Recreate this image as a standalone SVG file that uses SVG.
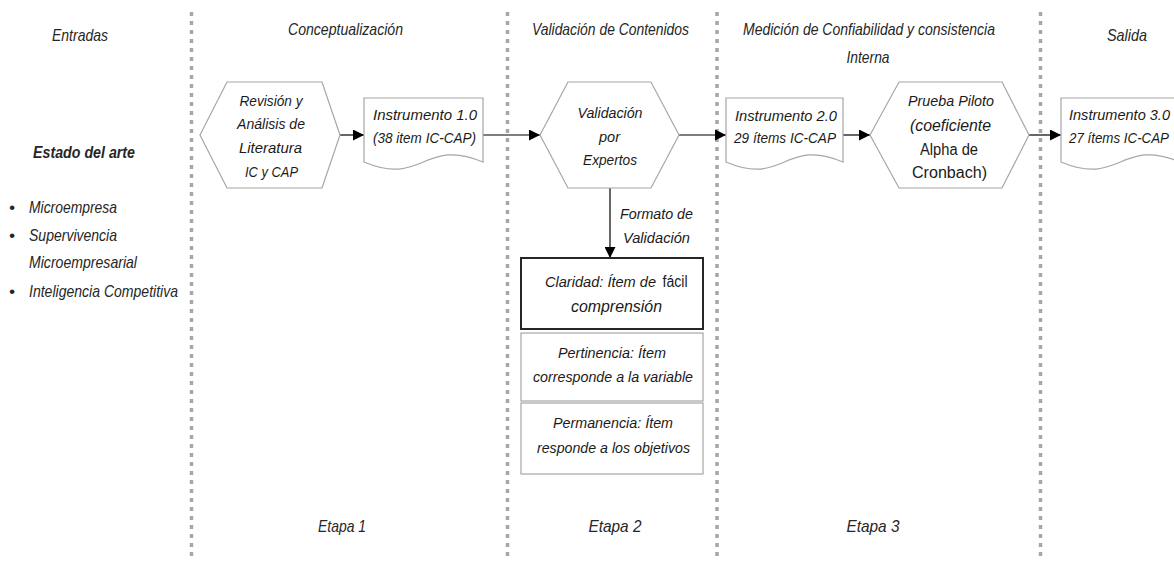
<svg xmlns="http://www.w3.org/2000/svg" width="1174" height="561" viewBox="0 0 1174 561">
  <defs>
    <style>
      .hdr { font-family: "Liberation Sans Narrow", "Liberation Sans", Arial, sans-serif; font-style: italic; font-size: 17px; fill: #262626; text-anchor: middle; }
      .hdrl { font-family: "Liberation Sans Narrow", "Liberation Sans", Arial, sans-serif; font-style: italic; font-size: 17px; fill: #262626; }
      .bold { font-weight: bold; }
      .cal { font-family: "Liberation Sans", Arial, sans-serif; font-style: italic; font-size: 15px; fill: #1a1a1a; text-anchor: middle; }
      .call { font-family: "Liberation Sans", Arial, sans-serif; font-style: italic; font-size: 15px; fill: #1a1a1a; }
      .ari { font-family: "Liberation Sans", Arial, sans-serif; font-size: 16px; fill: #1a1a1a; text-anchor: middle; }
      .shape { fill: #ffffff; stroke: #a6a6a6; stroke-width: 1.2; }
      .boxdark { fill: #ffffff; stroke: #262626; stroke-width: 2; }
      .conn { stroke: #000000; stroke-width: 1.2; fill: none; marker-end: url(#arr); }
      .div { stroke: #a6a6a6; stroke-width: 3.5; stroke-dasharray: 4 5; fill: none; }
    </style>
    <marker id="arr" markerUnits="userSpaceOnUse" markerWidth="11" markerHeight="11" viewBox="0 0 11 11" refX="11" refY="5.5" orient="auto">
      <path d="M0,0 L11,5.5 L0,11 Z" fill="#000000"/>
    </marker>
  </defs>

  <rect x="0" y="0" width="1174" height="561" fill="#ffffff"/>

  <!-- column dividers -->
  <g id="dividers">
    <line class="div" x1="191.5" y1="12" x2="191.5" y2="561"/>
    <line class="div" x1="507.5" y1="12" x2="507.5" y2="561"/>
    <line class="div" x1="717" y1="12" x2="717" y2="561"/>
    <line class="div" x1="1040.5" y1="12" x2="1040.5" y2="561"/>
  </g>

  <!-- column headers -->
  <g id="headers">
    <text class="hdr" x="80" y="41" textLength="56" lengthAdjust="spacingAndGlyphs">Entradas</text>
    <text class="hdr" x="345.5" y="35" textLength="115" lengthAdjust="spacingAndGlyphs">Conceptualización</text>
    <text class="hdr" x="610.5" y="35" textLength="157" lengthAdjust="spacingAndGlyphs">Validación de Contenidos</text>
    <text class="hdr" x="869" y="35" textLength="252" lengthAdjust="spacingAndGlyphs">Medición de Confiabilidad y consistencia</text>
    <text class="hdr" x="868" y="63" textLength="43" lengthAdjust="spacingAndGlyphs">Interna</text>
    <text class="hdr" x="1127" y="41" textLength="40" lengthAdjust="spacingAndGlyphs">Salida</text>
  </g>

  <!-- inputs: state of the art -->
  <g id="estado-del-arte">
    <text class="hdr bold" x="84" y="158" textLength="102" lengthAdjust="spacingAndGlyphs">Estado del arte</text>
    <text class="hdrl" x="9" y="213">•</text>
    <text class="hdrl" x="29" y="213" textLength="88" lengthAdjust="spacingAndGlyphs">Microempresa</text>
    <text class="hdrl" x="9" y="241">•</text>
    <text class="hdrl" x="29" y="241" textLength="88" lengthAdjust="spacingAndGlyphs">Supervivencia</text>
    <text class="hdrl" x="29" y="268" textLength="108" lengthAdjust="spacingAndGlyphs">Microempresarial</text>
    <text class="hdrl" x="9" y="297">•</text>
    <text class="hdrl" x="29" y="297" textLength="149" lengthAdjust="spacingAndGlyphs">Inteligencia Competitiva</text>
  </g>

  <!-- connectors -->
  <g id="connectors">
    <line class="conn" x1="340" y1="135" x2="364" y2="135"/>
    <line class="conn" x1="483" y1="135" x2="540" y2="135"/>
    <line class="conn" x1="679" y1="135" x2="726" y2="135"/>
    <line class="conn" x1="843" y1="135" x2="870" y2="135"/>
    <line class="conn" x1="1029" y1="135" x2="1061" y2="135"/>
    <line class="conn" x1="610" y1="188" x2="610" y2="258"/>
    <text class="cal" x="656.5" y="219" textLength="73" lengthAdjust="spacingAndGlyphs">Formato de</text>
    <text class="cal" x="656.5" y="243" textLength="67" lengthAdjust="spacingAndGlyphs">Validación</text>
  </g>

  <!-- Etapa 1 -->
  <g id="revision-literatura">
    <polygon class="shape" points="200,135 227,82 322,82 340,135 322,188 227,188"/>
    <text class="cal" x="271" y="106" textLength="63" lengthAdjust="spacingAndGlyphs">Revisión y</text>
    <text class="cal" x="271" y="129" textLength="68" lengthAdjust="spacingAndGlyphs">Análisis de</text>
    <text class="cal" x="270.5" y="153" textLength="63" lengthAdjust="spacingAndGlyphs">Literatura</text>
    <text class="cal" x="271.5" y="177" textLength="53" lengthAdjust="spacingAndGlyphs">IC y CAP</text>
  </g>

  <g id="instrumento-1">
    <path class="shape" d="M364,98 H483 V162 C423.5,137 423.5,187 364,162 Z"/>
    <text class="cal" x="425" y="120" textLength="104" lengthAdjust="spacingAndGlyphs">Instrumento 1.0</text>
    <text class="cal" x="424.5" y="143" textLength="103" lengthAdjust="spacingAndGlyphs">(38 item IC-CAP)</text>
  </g>

  <!-- Etapa 2 -->
  <g id="validacion-expertos">
    <polygon class="shape" points="540,135 568,82 651,82 679,135 651,188 568,188"/>
    <text class="cal" x="610" y="118" textLength="65" lengthAdjust="spacingAndGlyphs">Validación</text>
    <text class="cal" x="609.5" y="142" textLength="21" lengthAdjust="spacingAndGlyphs">por</text>
    <text class="cal" x="610" y="165" textLength="54" lengthAdjust="spacingAndGlyphs">Expertos</text>
  </g>

  <g id="claridad">
    <rect class="boxdark" x="521" y="258" width="182" height="71"/>
    <text class="call" x="545" y="287" textLength="111" lengthAdjust="spacingAndGlyphs">Claridad: Ítem de</text>
    <text class="ari" x="675" y="287" textLength="25" lengthAdjust="spacingAndGlyphs">fácil</text>
    <text class="ari" x="616.5" y="312" font-style="italic" textLength="91" lengthAdjust="spacingAndGlyphs">comprensión</text>
  </g>

  <g id="pertinencia">
    <rect class="shape" x="521" y="333" width="182" height="68"/>
    <text class="cal" x="612" y="358" textLength="108" lengthAdjust="spacingAndGlyphs">Pertinencia: Ítem</text>
    <text class="cal" x="613" y="382" textLength="160" lengthAdjust="spacingAndGlyphs">corresponde a la variable</text>
  </g>

  <g id="permanencia">
    <rect class="shape" x="521" y="403" width="182" height="71"/>
    <text class="cal" x="613" y="428" textLength="120" lengthAdjust="spacingAndGlyphs">Permanencia: Ítem</text>
    <text class="cal" x="613.5" y="453" textLength="153" lengthAdjust="spacingAndGlyphs">responde a los objetivos</text>
  </g>

  <!-- Etapa 3 -->
  <g id="instrumento-2">
    <path class="shape" d="M726,98 H843 V162 C784.5,137 784.5,187 726,162 Z"/>
    <text class="cal" x="786" y="121" textLength="102" lengthAdjust="spacingAndGlyphs">Instrumento 2.0</text>
    <text class="cal" x="785" y="143" textLength="102" lengthAdjust="spacingAndGlyphs">29 ítems IC-CAP</text>
  </g>

  <g id="prueba-piloto">
    <polygon class="shape" points="870,135 899,82 1002,82 1029,135 1002,188 899,188"/>
    <text class="cal" x="951" y="106" textLength="86" lengthAdjust="spacingAndGlyphs">Prueba Piloto</text>
    <text class="ari" x="950.5" y="131" font-style="italic" textLength="81" lengthAdjust="spacingAndGlyphs">(coeficiente</text>
    <text class="ari" x="949" y="155" textLength="58" lengthAdjust="spacingAndGlyphs">Alpha de</text>
    <text class="ari" x="949.5" y="178" textLength="75" lengthAdjust="spacingAndGlyphs">Cronbach)</text>
  </g>

  <!-- output -->
  <g id="instrumento-3">
    <path class="shape" d="M1061,98 H1180 V162 C1120.5,137 1120.5,187 1061,162 Z"/>
    <text class="call" x="1069" y="120" textLength="101" lengthAdjust="spacingAndGlyphs">Instrumento 3.0</text>
    <text class="call" x="1069" y="143" textLength="100" lengthAdjust="spacingAndGlyphs">27 ítems IC-CAP</text>
  </g>

  <!-- stage labels -->
  <g id="etapas">
    <text class="hdr" x="342" y="532" textLength="48" lengthAdjust="spacingAndGlyphs">Etapa 1</text>
    <text class="hdr" x="615" y="532" textLength="53" lengthAdjust="spacingAndGlyphs">Etapa  2</text>
    <text class="hdr" x="873" y="532" textLength="53" lengthAdjust="spacingAndGlyphs">Etapa  3</text>
  </g>
</svg>
